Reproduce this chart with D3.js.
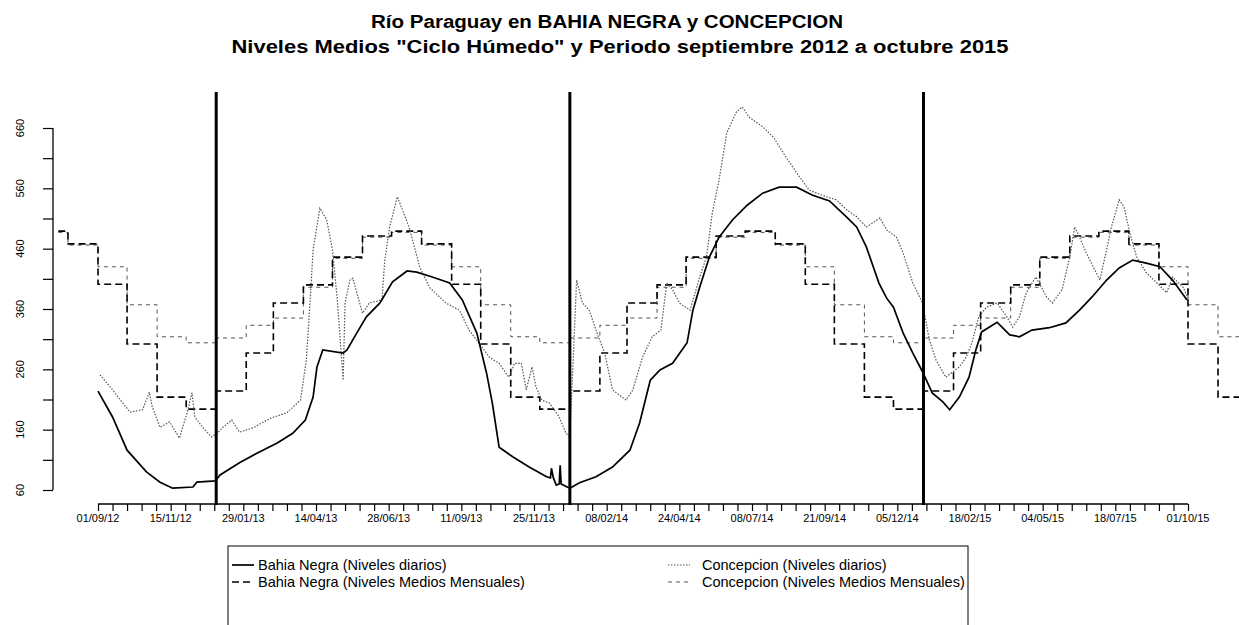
<!DOCTYPE html>
<html>
<head>
<meta charset="utf-8">
<script src="https://d3js.org/d3.v7.min.js"></script>
<style>
  body { margin: 0; background: #fff; }
  svg { display: block; font-family: "Liberation Sans", Arial, sans-serif; }
</style>
</head>
<body>
<svg id="chart" width="1239" height="625"></svg>
<script>
/// Data

// Bahia Negra, daily levels
var bnDates = ["2012-09-01","2012-09-16","2012-10-01","2012-10-21","2012-11-04","2012-11-17","2012-12-08","2012-12-12","2012-12-31",
  "2013-01-05","2013-01-25","2013-02-12","2013-03-05","2013-03-21","2013-04-03","2013-04-11","2013-04-15","2013-04-21","2013-05-12",
  "2013-05-16","2013-05-26","2013-06-05","2013-06-19","2013-07-02","2013-07-17","2013-07-27","2013-08-12","2013-08-30","2013-09-12",
  "2013-09-27","2013-10-07","2013-10-13","2013-10-20","2013-11-03","2013-11-20","2013-12-08","2013-12-12","2013-12-13","2013-12-15",
  "2013-12-18","2013-12-21","2013-12-22","2013-12-23","2014-01-01","2014-01-11","2014-01-28","2014-02-14","2014-03-04","2014-03-14",
  "2014-03-25","2014-04-04","2014-04-17","2014-05-02","2014-05-08","2014-05-15","2014-05-25","2014-06-04","2014-06-18","2014-07-03",
  "2014-07-19","2014-08-05","2014-08-23","2014-09-08","2014-09-26","2014-10-14","2014-10-24","2014-11-03","2014-11-16","2014-11-24",
  "2014-12-01","2014-12-11","2014-12-21","2014-12-31","2015-01-10","2015-01-21","2015-01-28","2015-02-07","2015-02-17","2015-02-24",
  "2015-03-02","2015-03-18","2015-03-31","2015-04-10","2015-04-23","2015-05-11","2015-05-28","2015-06-11","2015-06-24","2015-07-09",
  "2015-07-22","2015-08-05","2015-08-19","2015-09-02","2015-09-15","2015-09-30"];
var bnLevels = [224,181,126,90,73,63,65,73,75,
  85,105,121,138,154,176,214,264,292,287,
  292,320,347,370,405,423,421,413,403,375,
  320,254,204,131,115,98,82,80,96,80,
  68,70,101,70,63,72,82,98,126,171,
  242,259,270,304,358,396,446,479,508,532,
  552,562,562,549,539,512,496,463,403,378,
  363,320,287,256,221,206,193,214,247,292,
  322,338,317,314,325,329,337,358,380,408,
  428,441,436,430,408,375];

// Concepcion, daily levels
var ccDates = ["2012-09-03","2012-09-16","2012-10-04","2012-10-17","2012-10-24","2012-10-27","2012-11-04","2012-11-14","2012-11-24",
  "2012-12-02","2012-12-07","2012-12-10","2012-12-18","2012-12-27","2013-01-02","2013-01-08","2013-01-17","2013-01-25","2013-02-08",
  "2013-02-26","2013-03-15","2013-03-29","2013-04-04","2013-04-08","2013-04-11","2013-04-18","2013-04-25","2013-05-01","2013-05-06",
  "2013-05-12","2013-05-14","2013-05-19","2013-05-22","2013-06-01","2013-06-08","2013-06-21","2013-06-24","2013-06-29","2013-07-07",
  "2013-07-19","2013-07-30","2013-08-09","2013-08-26","2013-09-09","2013-09-19","2013-09-29","2013-10-10","2013-10-20","2013-10-30",
  "2013-11-05","2013-11-12","2013-11-17","2013-11-23","2013-11-27","2013-12-03","2013-12-11","2013-12-21","2013-12-28","2014-01-01",
  "2014-01-08","2014-01-14","2014-01-21","2014-01-28","2014-02-06","2014-02-14","2014-02-28","2014-03-07","2014-03-17","2014-03-27",
  "2014-04-05","2014-04-11","2014-04-17","2014-04-24","2014-05-05","2014-05-15","2014-05-22","2014-05-28","2014-06-04","2014-06-12",
  "2014-06-22","2014-06-28","2014-07-05","2014-07-19","2014-07-30","2014-08-12","2014-08-26","2014-09-05","2014-09-23","2014-10-03",
  "2014-10-14","2014-10-24","2014-11-03","2014-11-10","2014-11-17","2014-11-24","2014-12-04","2014-12-11","2014-12-21","2014-12-28",
  "2014-12-31","2015-01-07","2015-01-14","2015-01-24","2015-02-07","2015-02-14","2015-02-20","2015-02-27","2015-03-07","2015-03-18",
  "2015-03-28","2015-04-03","2015-04-10","2015-04-17","2015-04-27","2015-05-08","2015-05-14","2015-05-24","2015-06-01","2015-06-06",
  "2015-06-11","2015-06-18","2015-07-02","2015-07-09","2015-07-14","2015-07-22","2015-07-27","2015-08-02","2015-08-09","2015-08-19",
  "2015-08-30","2015-09-09","2015-09-15","2015-09-26","2015-10-01"];
var ccLevels = [251,226,189,193,222,198,164,173,146,
  188,221,181,164,148,154,164,176,156,163,
  179,188,209,275,375,458,527,508,458,375,
  242,370,408,411,353,370,375,441,496,546,
  496,430,396,370,358,325,304,280,270,247,
  270,270,226,264,231,209,204,181,154,148,
  408,370,358,325,287,226,209,226,280,314,
  325,403,392,370,358,413,446,519,574,652,
  687,695,678,662,645,612,579,557,546,541,
  524,513,496,503,511,491,479,453,403,380,
  370,309,275,247,264,280,304,347,363,370,
  347,330,347,387,413,380,370,392,446,496,
  479,453,408,458,496,541,529,486,446,420,
  403,387,413,396,378];

// Mean monthly levels of the wet cycle, January..December
var monthNames = ["ene","feb","mar","abr","may","jun","jul","ago","sep","oct","nov","dic"];
var bnMonthly = [224,287,370,400,446,481,489,468,401,302,214,194];
var ccMonthly = [312,333,345,396,444,479,487,466,430,367,314,304];
var monthlyFrom = "2012-07-22";
var monthlyTo = "2015-12-01";

// axes
var xTickLabels = ["01/09/12","15/11/12","29/01/13","14/04/13","28/06/13","11/09/13","25/11/13","08/02/14",
  "24/04/14","08/07/14","21/09/14","05/12/14","18/02/15","04/05/15","18/07/15","01/10/15"];
var yTickValues = [60,110,160,210,260,310,360,410,460,510,560,610,660];
var yTickLabels = [60,160,260,360,460,560,660];
var yearLines = ["2013-01-01","2014-01-01","2015-01-01"];

var title1 = "Río Paraguay en BAHIA NEGRA y CONCEPCION";
var title2 = "Niveles Medios \"Ciclo Húmedo\" y Periodo septiembre 2012 a octubre 2015";
var legendLabels = ["Bahia Negra (Niveles diarios)","Bahia Negra (Niveles Medios Mensuales)",
  "Concepcion (Niveles diarios)","Concepcion (Niveles Medios Mensuales)"];


/// Scales

var parse = d3.utcParse("%Y-%m-%d");
var parseLabel = d3.utcParse("%d/%m/%y");
var svg = d3.select("#chart");

var x = d3.scaleUtc()
  .domain([parse("2012-09-01"), parse("2015-10-01")])
  .range([98, 1188]);
var y = d3.scaleLinear()
  .domain([60, 660])
  .range([490, 128]);

function zip(dates, values){
  return dates.map(function(d, i){ return [parse(d), values[i]]; });
}

// monthly steps: one flat piece per calendar month
function monthlySteps(clim){
  var start = parse(monthlyFrom), end = parse(monthlyTo);
  var pts = [[start, clim[start.getUTCMonth()]]];
  d3.utcMonth.range(d3.utcMonth.ceil(start), end).forEach(function(m){
    pts.push([m, clim[m.getUTCMonth()]]);
  });
  pts.push([end, pts[pts.length-1][1]]);
  return pts;
}

svg.append("clipPath").attr("id", "plotclip")
  .append("rect").attr("x", 53).attr("y", 60).attr("width", 1200).attr("height", 446);

var plot = svg.append("g").attr("clip-path", "url(#plotclip)");

var line = d3.line().x(function(d){ return x(d[0]); }).y(function(d){ return y(d[1]); });
var stepLine = d3.line().curve(d3.curveStepAfter)
  .x(function(d){ return x(d[0]); }).y(function(d){ return y(d[1]); });

var styles = {
  bnDaily:   {stroke: "#000", width: 1.7, dash: null},
  bnMonthly: {stroke: "#000", width: 1.6, dash: "7,4"},
  ccDaily:   {stroke: "#555", width: 1.2, dash: "1.5,1.5"},
  ccMonthly: {stroke: "#555", width: 1.0, dash: "4,4"}
};

function drawPath(data, gen, st){
  plot.append("path")
    .datum(data)
    .attr("d", gen)
    .attr("fill", "none")
    .attr("stroke", st.stroke)
    .attr("stroke-width", st.width)
    .attr("stroke-dasharray", st.dash);
}

drawPath(monthlySteps(ccMonthly), stepLine, styles.ccMonthly);
drawPath(monthlySteps(bnMonthly), stepLine, styles.bnMonthly);
drawPath(zip(ccDates, ccLevels), line, styles.ccDaily);
drawPath(zip(bnDates, bnLevels), line, styles.bnDaily);

// year separators
plot.selectAll(".year").data(yearLines).enter()
  .append("line")
  .attr("x1", function(d){ return x(parse(d)); })
  .attr("x2", function(d){ return x(parse(d)); })
  .attr("y1", 92).attr("y2", 505)
  .attr("stroke", "#000").attr("stroke-width", 3);


/// Axes

var xAxis = d3.axisBottom(x)
  .tickValues(d3.utcDay.range(parse("2012-09-01"), d3.utcDay.offset(parse("2015-10-01"), 1), 15))
  .tickSize(7)
  .tickFormat("");
var gx = svg.append("g").attr("transform", "translate(0,504)").call(xAxis);
gx.select(".domain").attr("d", "M" + x.range()[0] + ",0H" + x.range()[1]).attr("stroke-width", 1.3);
gx.selectAll(".tick line").attr("stroke-width", 1.2);

svg.append("g").selectAll("text").data(xTickLabels).enter()
  .append("text")
  .attr("x", function(d){ return x(parseLabel(d)); })
  .attr("y", 522)
  .attr("text-anchor", "middle")
  .attr("font-size", 11)
  .text(function(d){ return d; });

var yAxis = d3.axisLeft(y).tickValues(yTickValues).tickSize(10).tickFormat("");
var gy = svg.append("g").attr("transform", "translate(53,0)").call(yAxis);
gy.select(".domain").attr("d", "M0," + y(60) + "V" + y(660)).attr("stroke-width", 1.3);
gy.selectAll(".tick line").attr("stroke-width", 1.2);

svg.append("g").selectAll("text").data(yTickLabels).enter()
  .append("text")
  .attr("transform", function(d){ return "translate(24," + y(d) + ") rotate(-90)"; })
  .attr("text-anchor", "middle")
  .attr("font-size", 11)
  .text(function(d){ return d; });


/// Title

svg.append("text").attr("x", 607).attr("y", 28)
  .attr("text-anchor", "middle").attr("font-size", 18).attr("font-weight", "bold")
  .attr("textLength", 472).attr("lengthAdjust", "spacingAndGlyphs")
  .text(title1);
svg.append("text").attr("x", 620).attr("y", 53)
  .attr("text-anchor", "middle").attr("font-size", 18).attr("font-weight", "bold")
  .attr("textLength", 777).attr("lengthAdjust", "spacingAndGlyphs")
  .text(title2);


/// Legend

var legend = svg.append("g");
legend.append("rect")
  .attr("x", 228).attr("y", 546).attr("width", 740).attr("height", 90)
  .attr("fill", "none").attr("stroke", "#000").attr("stroke-width", 1);

var legendItems = [
  {label: legendLabels[0], st: styles.bnDaily,   lx: 232, tx: 258, ly: 565},
  {label: legendLabels[1], st: styles.bnMonthly, lx: 232, tx: 258, ly: 582},
  {label: legendLabels[2], st: styles.ccDaily,   lx: 668, tx: 702, ly: 565},
  {label: legendLabels[3], st: styles.ccMonthly, lx: 668, tx: 702, ly: 582}
];
legendItems.forEach(function(item){
  legend.append("line")
    .attr("x1", item.lx).attr("x2", item.lx + 22)
    .attr("y1", item.ly).attr("y2", item.ly)
    .attr("stroke", item.st.stroke).attr("stroke-width", item.st.width)
    .attr("stroke-dasharray", item.st.dash);
  legend.append("text")
    .attr("x", item.tx).attr("y", item.ly + 5)
    .attr("font-size", 14.5)
    .text(item.label);
});
</script>
</body>
</html>
